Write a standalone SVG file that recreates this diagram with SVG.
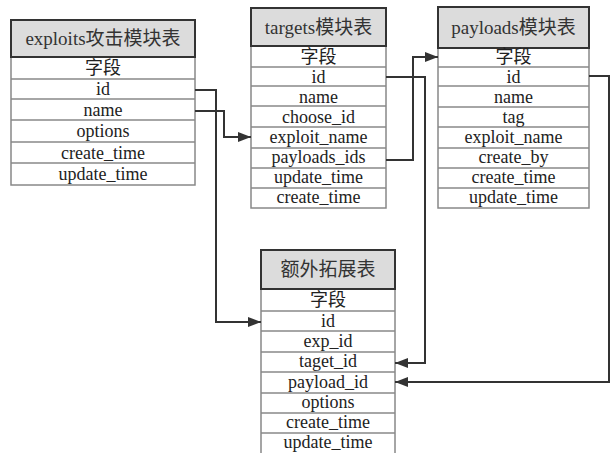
<svg xmlns="http://www.w3.org/2000/svg" width="615" height="453" viewBox="0 0 615 453">
<style>
.hdr{fill:#dcdcdc;stroke:#333;stroke-width:2}
.body{fill:#fff;stroke:#888;stroke-width:1.5}
.sep{stroke:#888;stroke-width:1.5}
text{font-family:"Liberation Serif","Noto Sans CJK SC",serif;fill:#222;text-anchor:middle}
.t{font-size:18px}
.h{font-size:19px;fill:#333}
.conn{fill:none;stroke:#333;stroke-width:2}
</style>
<defs>
<marker id="arr" markerUnits="userSpaceOnUse" markerWidth="14" markerHeight="12" refX="13" refY="6" orient="auto">
<path d="M0,1 L13,6 L0,11 Z" fill="#333"/>
</marker>
</defs>
<rect width="615" height="453" fill="#fff"/>

<g id="exploits">
<rect class="body" x="11" y="57" width="184" height="128"/>
<rect class="hdr" x="11" y="20" width="184" height="37"/>
<line class="sep" x1="11" y1="79" x2="195" y2="79"/>
<line class="sep" x1="11" y1="99" x2="195" y2="99"/>
<line class="sep" x1="11" y1="120" x2="195" y2="120"/>
<line class="sep" x1="11" y1="142" x2="195" y2="142"/>
<line class="sep" x1="11" y1="163" x2="195" y2="163"/>
<text class="h" x="103" y="45">exploits攻击模块表</text>
<text class="t" x="103" y="74">字段</text>
<text class="t" x="103" y="95">id</text>
<text class="t" x="103" y="115.5">name</text>
<text class="t" x="103" y="137">options</text>
<text class="t" x="103" y="158.5">create_time</text>
<text class="t" x="103" y="180">update_time</text>
</g>

<g id="targets">
<rect class="body" x="251" y="46" width="135" height="162"/>
<rect class="hdr" x="251" y="8" width="135" height="38"/>
<line class="sep" x1="251" y1="67" x2="386" y2="67"/>
<line class="sep" x1="251" y1="86" x2="386" y2="86"/>
<line class="sep" x1="251" y1="106" x2="386" y2="106"/>
<line class="sep" x1="251" y1="127" x2="386" y2="127"/>
<line class="sep" x1="251" y1="148" x2="386" y2="148"/>
<line class="sep" x1="251" y1="168" x2="386" y2="168"/>
<line class="sep" x1="251" y1="188" x2="386" y2="188"/>
<text class="h" x="318.5" y="34">targets模块表</text>
<text class="t" x="318.5" y="63">字段</text>
<text class="t" x="318.5" y="83">id</text>
<text class="t" x="318.5" y="103">name</text>
<text class="t" x="318.5" y="123">choose_id</text>
<text class="t" x="318.5" y="143">exploit_name</text>
<text class="t" x="318.5" y="163">payloads_ids</text>
<text class="t" x="318.5" y="183">update_time</text>
<text class="t" x="318.5" y="203">create_time</text>
</g>

<g id="payloads">
<rect class="body" x="438" y="48" width="151" height="160"/>
<rect class="hdr" x="438" y="7" width="151" height="41"/>
<line class="sep" x1="438" y1="67" x2="589" y2="67"/>
<line class="sep" x1="438" y1="86" x2="589" y2="86"/>
<line class="sep" x1="438" y1="107" x2="589" y2="107"/>
<line class="sep" x1="438" y1="127" x2="589" y2="127"/>
<line class="sep" x1="438" y1="148" x2="589" y2="148"/>
<line class="sep" x1="438" y1="168" x2="589" y2="168"/>
<line class="sep" x1="438" y1="188" x2="589" y2="188"/>
<text class="h" x="513.5" y="34">payloads模块表</text>
<text class="t" x="513.5" y="63">字段</text>
<text class="t" x="513.5" y="83">id</text>
<text class="t" x="513.5" y="103">name</text>
<text class="t" x="513.5" y="123">tag</text>
<text class="t" x="513.5" y="143">exploit_name</text>
<text class="t" x="513.5" y="163">create_by</text>
<text class="t" x="513.5" y="183">create_time</text>
<text class="t" x="513.5" y="203">update_time</text>
</g>

<g id="extra">
<rect class="body" x="261" y="289" width="134" height="170"/>
<rect class="hdr" x="261" y="250" width="134" height="39"/>
<line class="sep" x1="261" y1="311" x2="395" y2="311"/>
<line class="sep" x1="261" y1="331" x2="395" y2="331"/>
<line class="sep" x1="261" y1="352" x2="395" y2="352"/>
<line class="sep" x1="261" y1="372" x2="395" y2="372"/>
<line class="sep" x1="261" y1="393" x2="395" y2="393"/>
<line class="sep" x1="261" y1="413" x2="395" y2="413"/>
<line class="sep" x1="261" y1="433" x2="395" y2="433"/>
<text class="h" x="328" y="276">额外拓展表</text>
<text class="t" x="328" y="306">字段</text>
<text class="t" x="328" y="327">id</text>
<text class="t" x="328" y="347">exp_id</text>
<text class="t" x="328" y="367">taget_id</text>
<text class="t" x="328" y="388">payload_id</text>
<text class="t" x="328" y="408">options</text>
<text class="t" x="328" y="428">create_time</text>
<text class="t" x="328" y="448">update_time</text>
</g>

<g id="connectors">
<polyline class="conn" points="195,90 216,90 216,322 261,322" marker-end="url(#arr)"/>
<polyline class="conn" points="195,111 224,111 224,137 251,137" marker-end="url(#arr)"/>
<polyline class="conn" points="386,77 425,77 425,363 395,363" marker-end="url(#arr)"/>
<polyline class="conn" points="386,160 413,160 413,57 438,57" marker-end="url(#arr)"/>
<polyline class="conn" points="589,76 609,76 609,382 395,382" marker-end="url(#arr)"/>
</g>
</svg>
